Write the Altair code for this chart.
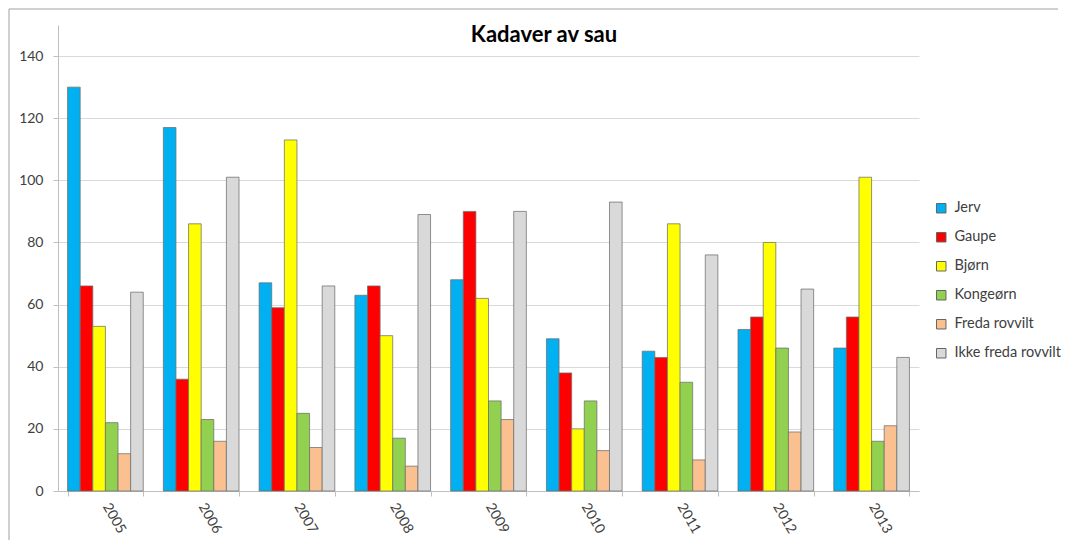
import altair as alt
import pandas as pd

years = ["2005", "2006", "2007", "2008", "2009", "2010", "2011", "2012", "2013"]
series = ["Jerv", "Gaupe", "Bjørn", "Kongeørn", "Freda rovvilt", "Ikke freda rovvilt"]
colors = ["#00B0F0", "#FF0000", "#FFFF00", "#92D050", "#FAC090", "#D9D9D9"]

jerv = [130, 117, 67, 63, 68, 49, 45, 52, 46]
gaupe = [66, 36, 59, 66, 90, 38, 43, 56, 56]
bjorn = [53, 86, 113, 50, 62, 20, 86, 80, 101]
kongeorn = [22, 23, 25, 17, 29, 29, 35, 46, 16]
freda = [12, 16, 14, 8, 23, 13, 10, 19, 21]
ikke_freda = [64, 101, 66, 89, 90, 93, 76, 65, 43]

values = [jerv, gaupe, bjorn, kongeorn, freda, ikke_freda]
rows = []
for s, vals in zip(series, values):
    for y, v in zip(years, vals):
        rows.append({"År": y, "Art": s, "Antall": v})
df = pd.DataFrame(rows)

FONT = "Lato"

bars = alt.Chart(df).mark_bar(stroke="#6E6E6E", strokeOpacity=0.75, strokeWidth=1).encode(
    x=alt.X("År:N", sort=years,
            scale=alt.Scale(paddingInner=0.21, paddingOuter=0.1),
            axis=alt.Axis(title=None, labelAngle=60, labelAlign="left", labelBaseline="middle",
                          labelPadding=8, tickBand="extent", tickSize=5, tickColor="#BFBFBF",
                          domainColor="#BFBFBF", labelFont=FONT, labelFontSize=14,
                          labelColor="#404040", grid=False)),
    xOffset=alt.XOffset("Art:N", sort=series, scale=alt.Scale(paddingInner=0, paddingOuter=0)),
    y=alt.Y("Antall:Q", scale=alt.Scale(domain=[0, 150], nice=False),
            axis=alt.Axis(title=None, values=[0, 20, 40, 60, 80, 100, 120, 140], tickSize=5,
                          tickColor="#BFBFBF", domainColor="#BFBFBF", gridColor="#D9D9D9",
                          labelPadding=10, labelFont=FONT, labelFontSize=14, labelColor="#404040")),
    color=alt.Color("Art:N", sort=series, scale=alt.Scale(domain=series, range=colors),
                    legend=alt.Legend(title=None, orient="none", legendX=876, legendY=176,
                                      symbolType="square", symbolSize=90, symbolStrokeColor="#666666",
                                      symbolStrokeWidth=1, rowPadding=14, labelOffset=6,
                                      labelFont=FONT, labelFontSize=14.5, labelColor="#404040")),
)

title = alt.Chart(pd.DataFrame({"t": ["Kadaver av sau"]})).mark_text(
    font=FONT, fontSize=22, fontWeight="bold", color="#000000", align="center", baseline="middle"
).encode(text="t:N", x=alt.value(486), y=alt.value(10))

border_top = alt.Chart(pd.DataFrame({"a": [0]})).mark_rule(color="#A0A0A0", strokeWidth=1).encode(
    x=alt.value(-49), x2=alt.value(1000), y=alt.value(-16))
border_left = alt.Chart(pd.DataFrame({"a": [0]})).mark_rule(color="#A0A0A0", strokeWidth=1).encode(
    x=alt.value(-49), y=alt.value(-16), y2=alt.value(515))

chart = alt.layer(bars, title, border_top, border_left).properties(
    width=861, height=466, padding=0
).configure(font=FONT).configure_view(strokeWidth=0, stroke="transparent")

chart.save("out.html", embed_options={"renderer": "svg", "actions": False})
